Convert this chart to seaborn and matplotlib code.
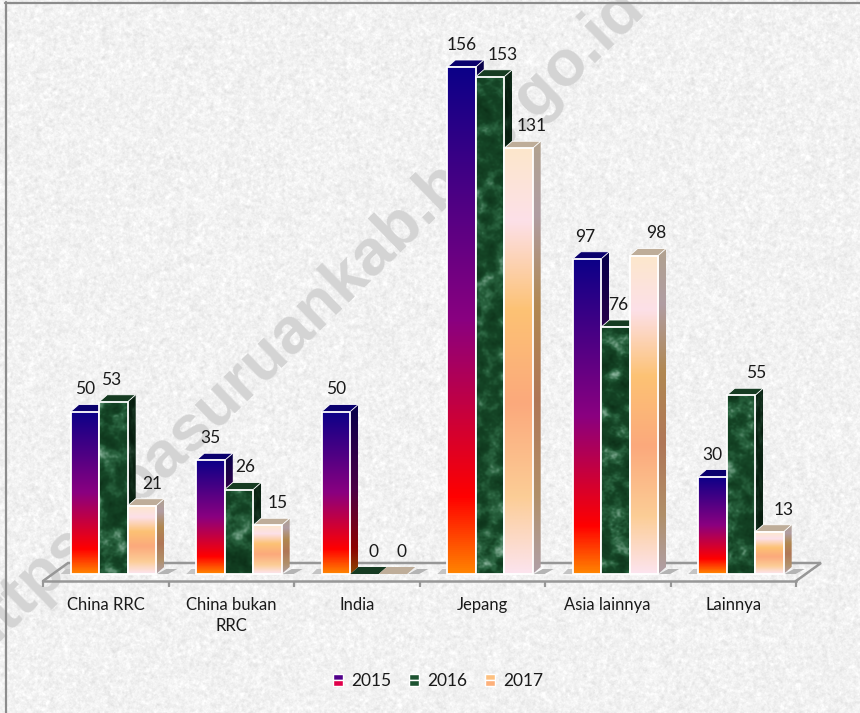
import numpy as np
import pandas as pd
import matplotlib
matplotlib.use('Agg')
import matplotlib.pyplot as plt
import seaborn as sns
from matplotlib.colors import LinearSegmentedColormap, to_rgb
from matplotlib.legend_handler import HandlerBase
from matplotlib.patches import Patch, Polygon, Rectangle

# Chart values
regions = ['China RRC', 'China bukan\nRRC', 'India', 'Jepang', 'Asia lainnya', 'Lainnya']
years = ['2015', '2016', '2017']
values_2015 = [50, 35, 50, 156, 97, 30]
values_2016 = [53, 26, 0, 153, 76, 55]
values_2017 = [21, 15, 0, 131, 98, 13]

# Hand placed label nudges from the bar centre, in pixels
nudge_2015 = [0, 0, 0, 0, -2, 0]
nudge_2016 = [-2, 6, 9, 13, 3, 15]
nudge_2017 = [10, 10, 9, 13, 12, 14]

W, H = 860, 713
PX_CAT = 125.5   # pixels per category
PX_VAL = 3.25    # pixels per unit
BASE_X, BASE_Y = 113.5, 574  # pixel position of first group centre and of value 0
DX, DY = 8 / PX_CAT, 7 / PX_VAL  # bar depth
AXIS_COL = '#979797'

sns.set_theme(style='white')
plt.rcParams['font.family'] = ['Lato', 'DejaVu Sans']

df = pd.DataFrame({
    'region': np.repeat(regions, 3),
    'year': years * len(regions),
    'value': np.array([values_2015, values_2016, values_2017]).T.ravel(),
})

rng = np.random.default_rng(7)


def smooth_noise(shape, scale):
    # low-passed noise scaled to 0..1, used for paper and marble textures
    fy = np.fft.fftfreq(shape[0])[:, None]
    fx = np.fft.rfftfreq(shape[1])[None, :]
    spectrum = np.fft.rfft2(rng.standard_normal(shape)) * np.exp(-(fx**2 + fy**2) * scale**2)
    out = np.fft.irfft2(spectrum, s=shape)
    return (out - out.min()) / (out.max() - out.min())


fire = LinearSegmentedColormap.from_list('fire', [
    (0, '#0c0088'), (0.5, '#8a0080'), (0.85, '#ff0000'), (1, '#ff8400')])
peach = LinearSegmentedColormap.from_list('peach', [
    (0, '#fde7cc'), (0.17, '#fce0e8'), (0.38, '#fdc274'), (0.6, '#fba97c'),
    (0.82, '#fccd96'), (1, '#fce4ee')])
marble = LinearSegmentedColormap.from_list('marble', [
    (0, '#0c3018'), (0.45, '#154526'), (0.68, '#2a6440'), (1, '#8ab49c')])


def bar_texture(series, px_h):
    px_h = max(int(px_h), 2)
    ramp = np.linspace(0, 1, px_h)[:, None]
    if series == 0:
        return fire(np.repeat(ramp, 2, axis=1))[..., :3]
    if series == 2:
        return peach(np.repeat(ramp, 2, axis=1))[..., :3]
    tex = 0.7 * smooth_noise((px_h + 60, 90), 16) + 0.3 * smooth_noise((px_h + 60, 90), 4)
    tex = (tex - tex.min()) / (tex.max() - tex.min())
    return marble(tex[:px_h, :28])[..., :3]


fig = plt.figure(figsize=(W / 100, H / 100), dpi=100)

# Paper background
paper = 0.65 * smooth_noise((H, W), 5) + 0.35 * smooth_noise((H, W), 2)
paper = (paper - paper.mean()) / paper.std()
paper = np.clip(0.95 + 0.018 * paper, 0.84, 1.0)
fig.figimage(np.dstack([paper] * 3), zorder=-5)

fig.text(-21 / W, 1 - 658 / H, 'https://pasuruankab.bps.go.id', fontsize=47, fontweight='bold',
         color='#d4d4d4', rotation=44.2, rotation_mode='anchor', ha='left', va='baseline',
         family='Liberation Sans', zorder=-4)
fig.add_artist(plt.Line2D([5.5 / W, 5.5 / W], [0, 1 - 2 / H], color='#8c8c8c', lw=1.6))
fig.add_artist(plt.Line2D([5 / W, 1], [1 - 2.5 / H] * 2, color='#8c8c8c', lw=1.6))

ax = fig.add_axes([0, 0, 1, 1])
ax.patch.set_visible(False)

sns.barplot(data=df, x='region', y='value', hue='year', order=regions, hue_order=years,
            palette=['#80006f', '#1c5230', '#fdc080'], width=0.68, gap=0, legend=False,
            errorbar=None, ax=ax)

x_lim = (-BASE_X / PX_CAT, (W - BASE_X) / PX_CAT)
y_lim = ((BASE_Y - H) / PX_VAL, BASE_Y / PX_VAL)
ax.set_xlim(x_lim)
ax.set_ylim(y_lim)
ax.set_autoscale_on(False)
ax.set_xlabel('')
ax.set_ylabel('')
ax.yaxis.set_visible(False)
for side in ['top', 'left', 'right']:
    ax.spines[side].set_visible(False)

# Floor of the 3D chart
front_y = -7 / PX_VAL
back_y = 11 / PX_VAL
left_x = (43 - BASE_X) / PX_CAT
right_x = left_x + len(regions)
floor_dx = 25 / PX_CAT
ax.spines['bottom'].set_position(('data', front_y))
ax.spines['bottom'].set_bounds(left_x, right_x)
ax.spines['bottom'].set_color(AXIS_COL)
ax.spines['bottom'].set_linewidth(1.8)
ax.plot([left_x, left_x + floor_dx, right_x + floor_dx, right_x], [front_y, back_y, back_y, front_y],
        color=AXIS_COL, lw=1.8, zorder=1, solid_joinstyle='miter')

ax.set_xticks(left_x + np.arange(len(regions) + 1))
ax.set_xticklabels([])
ax.tick_params(axis='x', which='major', length=4, width=1.6, color=AXIS_COL, bottom=True)
centres = left_x + 0.5 + np.arange(len(regions))
ax.set_xticks(centres, labels=regions, minor=True, linespacing=1.42)
ax.tick_params(axis='x', which='minor', length=0, pad=11.5, labelsize=12, labelcolor='#1a1a1a')

# 3D faces on top of the bars seaborn drew
all_nudges = [nudge_2015, nudge_2016, nudge_2017]
for s, container in enumerate(ax.containers):
    for i, patch in enumerate(container):
        x0, w, h = patch.get_x(), patch.get_width(), patch.get_height()
        x1 = x0 + w
        z = 3 + i * 3 + s * 0.5
        tex = bar_texture(s, h * PX_VAL)
        dark = 0.55 if s == 0 else 0.5 if s == 1 else 0.7
        if h > 0:
            ax.imshow(tex, extent=(x0, x1, 0, h), aspect='auto', zorder=z, interpolation='bilinear')
            side = Polygon([(x1, 0), (x1 + DX, DY), (x1 + DX, h + DY), (x1, h)], transform=ax.transData)
            im = ax.imshow(tex * dark, extent=(x1, x1 + DX, 0, h + DY), aspect='auto', zorder=z - 0.1,
                           interpolation='bilinear')
            im.set_clip_path(side)
        top_col = np.array(to_rgb(['#0c0088', '#1c4a2a', '#fde7cc'][s])) * (0.8 if s < 2 else 0.75)
        ax.add_patch(Polygon([(x0, h), (x0 + DX, h + DY), (x1 + DX, h + DY), (x1, h)],
                             facecolor=top_col, edgecolor='white' if h > 0 else 'none', lw=0.6,
                             zorder=z - 0.05))
        patch.set_facecolor('none')
        patch.set_edgecolor('white' if h > 0 else 'none')
        patch.set_linewidth(1.3)
        patch.set_zorder(z + 0.1)
        ax.annotate(str(int(h)), xy=(x0 + w / 2, h), xytext=(all_nudges[s][i], 22),
                    textcoords='offset pixels', ha='center', va='center', fontsize=12.5,
                    color='#1a1a1a', zorder=40)
    # small floor shadows either side of each group
    if s == 2:
        for i, patch in enumerate(container):
            x1 = patch.get_x() + patch.get_width()
            x0 = x1 - 3 * patch.get_width()
            ax.add_patch(Polygon([(x1 + 1 / PX_CAT, 0), (x1 + 10 / PX_CAT, 5 / PX_VAL),
                                  (x1 + 21 / PX_CAT, 5 / PX_VAL), (x1 + 12 / PX_CAT, 0)],
                                 facecolor='#b4b4b4', edgecolor='none', zorder=2))
            ax.add_patch(Polygon([(x0 - 10 / PX_CAT, 0), (x0 - 5 / PX_CAT, 5 / PX_VAL),
                                  (x0, 5 / PX_VAL), (x0, 0)],
                                 facecolor='#c4c4c4', edgecolor='none', zorder=2))


class SwatchHandler(HandlerBase):
    # two toned legend key so the 2015 gradient reads as in the bars
    def create_artists(self, legend, orig, xd, yd, width, height, fontsize, trans):
        top, bottom = orig.swatch
        return [Rectangle((-xd, -yd + height / 2), width, height / 2, facecolor=top, transform=trans),
                Rectangle((-xd, -yd), width, height / 2, facecolor=bottom, transform=trans)]


handles = []
for year, swatch in zip(years, [('#50008a', '#e0004a'), ('#1c5230', '#1c5230'), ('#fdc080', '#fdb07a')]):
    handle = Patch(label=year)
    handle.swatch = swatch
    handles.append(handle)

ax.legend(handles=handles, loc='center', bbox_to_anchor=(438 / W, 1 - 681 / H), ncol=3, frameon=False,
          fontsize=12.5, handlelength=0.62, handleheight=0.62, handletextpad=0.45, columnspacing=1.0,
          labelcolor='#1a1a1a', handler_map={Patch: SwatchHandler()})

fig.savefig('out.png', dpi=100)
